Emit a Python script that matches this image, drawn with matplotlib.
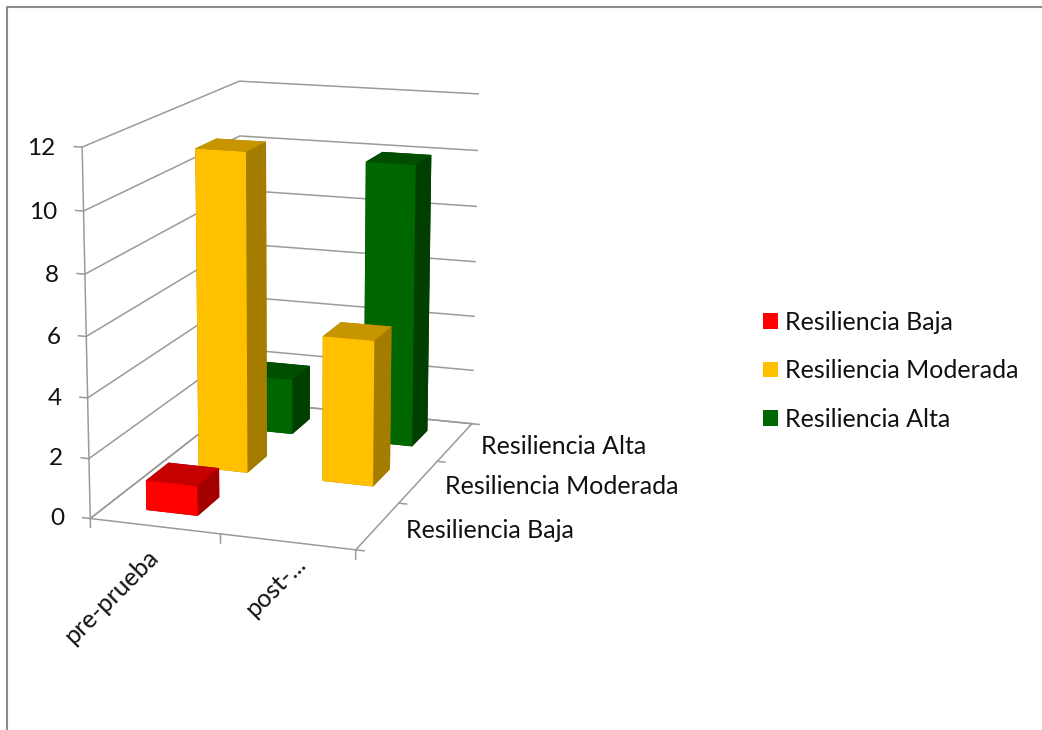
import numpy as np
import matplotlib
matplotlib.use('Agg')
import matplotlib.pyplot as plt
from matplotlib.patches import Patch
from matplotlib.lines import Line2D
from mpl_toolkits.mplot3d import proj3d

plt.rcParams['font.family'] = ['Lato', 'DejaVu Sans']

categories = ['pre-prueba', 'post-...']
series = ['Resiliencia Baja', 'Resiliencia Moderada', 'Resiliencia Alta']
baja = [1, 0]
moderada = [11, 5]
alta = [2, 10]
z_ticks = [0, 2, 4, 6, 8, 10, 12]

front = ['#FF0000', '#FFC000', '#006600']
top = ['#C60000', '#C69500', '#004F00']
side = ['#A30000', '#A37C00', '#003F00']

bar_w = 0.40
bar_d = 0.42
grid_c = '#9a9a9a'
txt_c = '#111111'

fig = plt.figure(figsize=(10.42, 7.3), dpi=100)
ax = fig.add_axes([-0.027, 0.152, 0.60, 0.86], projection='3d')
ax.set_proj_type('persp', focal_length=0.7)
ax.view_init(elev=14, azim=-71)
ax.set_box_aspect((0.72, 1.13, 0.975), zoom=0.95)
ax.set_xlim(0, 2)
ax.set_ylim(0, 3)
ax.set_zlim(0, 12)
ax.set_xticks([])
ax.set_yticks([])
ax.set_zticks([])
ax.set_axis_off()
ax.computed_zorder = False
M = ax.get_proj()


def line3(xx, yy, zz):
    ax.plot(xx, yy, zz, color=grid_c, lw=1.1, zorder=1, clip_on=False)


# Text3D ignores rotation, so all labels go on the projected plane
def label3(x, y, z, s, **kw):
    px, py, _ = proj3d.proj_transform(x, y, z, M)
    ax.text2D(px, py, s, transform=ax.transData, color=txt_c, **kw)


# walls
for z in z_ticks:
    line3([0, 0, 2], [0, 3, 3], [z, z, z])
line3([0, 2, 2, 0, 0], [0, 0, 3, 3, 0], [0, 0, 0, 0, 0])
line3([0, 0], [0, 0], [0, 12])

# ticks
for z in z_ticks:
    line3([0, -0.06], [0, 0], [z, z])
    label3(-0.2, 0, z - 0.1, str(z), ha='right', va='center', fontsize=17.5)
for x in [0, 1, 2]:
    line3([x, x], [0, 0], [0, -0.3])
for y in [0, 1, 2, 3]:
    line3([2, 2.06], [y, y], [0, 0])

xs, ys, hs, cols = [], [], [], []
for s, vals in enumerate([baja, moderada, alta]):
    for c, v in enumerate(vals):
        if v == 0:
            continue
        xs.append(c + 0.51 - bar_w / 2)
        ys.append(s + 0.5 - bar_d / 2)
        hs.append(v)
        # bottom, top, front, back, left, right
        cols += [side[s], top[s], front[s], side[s], side[s], side[s]]
bars = ax.bar3d(xs, ys, np.zeros(len(xs)), bar_w, bar_d, hs, color=cols, shade=False, zorder=3, edgecolor='none')
bars.set_clip_on(False)

label_spots = [(0.48, -0.5), (1.58, -0.13)]
for name, (lx, lz) in zip(categories, label_spots):
    label3(lx, -0.1, lz, name, rotation=45, ha='right', va='top', rotation_mode='anchor', fontsize=18)
for s, name in enumerate(series):
    label3(2.21, s + 0.5, -0.05, name, ha='left', va='center', fontsize=18)

handles = [Patch(facecolor=c, edgecolor='none') for c in front]
fig.legend(handles, series, loc='center left', bbox_to_anchor=(0.7105, 0.492), frameon=False,
           fontsize=18, handlelength=0.6, handleheight=0.6, handletextpad=0.3, labelspacing=1.02,
           labelcolor=txt_c)

# chart frame
fig.add_artist(Line2D([0.0067, 0.0067, 1.0], [0.0, 0.991, 0.991], color='#8c8c8c', lw=1.5))

fig.savefig('out.png', dpi=100, facecolor='white')
